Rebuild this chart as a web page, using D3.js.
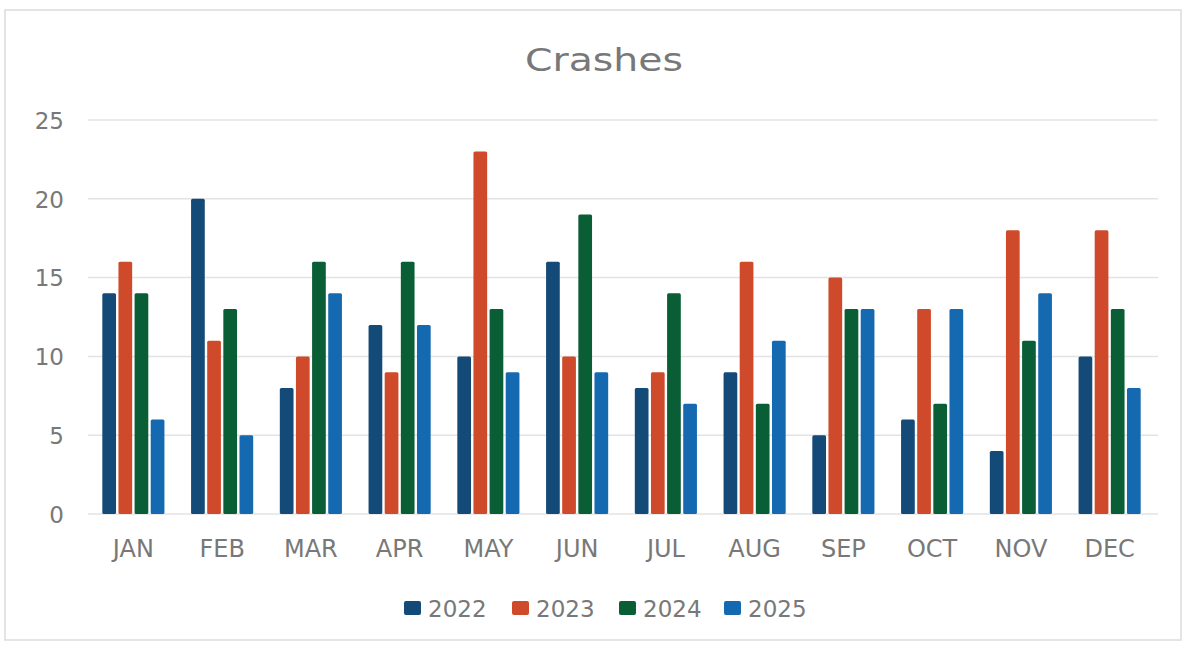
<!DOCTYPE html>
<html><head><meta charset="utf-8">
<script src="https://cdn.jsdelivr.net/npm/d3@7"></script>
<style>body{margin:0;background:#fff;}svg{display:block;font-family:"DejaVu Sans",sans-serif;}</style>
</head><body><svg id="c" width="1187" height="646"></svg>
<script>
const months = ["JAN","FEB","MAR","APR","MAY","JUN","JUL","AUG","SEP","OCT","NOV","DEC"];
const seriesNames = ["2022","2023","2024","2025"];
const v2022 = [14,20,8,12,10,16,8,9,5,6,4,10];
const v2023 = [16,11,10,9,23,10,9,16,15,13,18,18];
const v2024 = [14,13,16,16,13,19,14,7,13,7,11,13];
const v2025 = [6,5,14,12,9,9,7,11,13,13,14,8];
const yTicks = [0,5,10,15,20,25];
const colors = ["#144a78","#cf4a2b","#0a5e35","#1469b0"];
const values = [v2022,v2023,v2024,v2025];
const textCol = "#787878";

const svg = d3.select("#c");
svg.append("rect").attr("x",5).attr("y",10).attr("width",1176).attr("height",630)
  .attr("fill","#fff").attr("stroke","#dcdcdc").attr("stroke-width",1.5);

const x0 = d3.scaleBand().domain(months).range([89,1154]).paddingInner(0.3).paddingOuter(0.15);
const x1 = d3.scaleBand().domain(seriesNames).range([0,x0.bandwidth()]).paddingInner(0.15);
const y = d3.scaleLinear().domain([0,25]).range([514,120]);

const grid = svg.append("g");
grid.selectAll("line").data(yTicks).join("line")
  .attr("x1",88).attr("x2",1158).attr("y1",d=>y(d)).attr("y2",d=>y(d))
  .attr("stroke","#e3e3e3").attr("stroke-width",1.5);

const yAxis = svg.append("g").attr("transform","translate(64,0)")
  .call(d3.axisLeft(y).tickValues(yTicks).tickSize(0).tickPadding(0));
yAxis.select(".domain").remove();
yAxis.selectAll("text").attr("font-size",23).attr("fill",textCol).attr("font-family","'DejaVu Sans',sans-serif").attr("dy","0.36em");

const xAxis = svg.append("g").attr("transform","translate(0,557)")
  .call(d3.axisBottom(x0).tickSize(0).tickPadding(0));
xAxis.select(".domain").remove();
xAxis.selectAll("text").attr("font-size",24).attr("fill",textCol).attr("dy","0").attr("font-family","'DejaVu Sans',sans-serif");

const groups = svg.append("g").selectAll("g").data(months).join("g")
  .attr("transform",d=>`translate(${x0(d)},0)`);
groups.selectAll("rect").data((m,i)=>seriesNames.map((s,k)=>({s,k,v:values[k][i]}))).join("rect")
  .attr("x",d=>x1(d.s)).attr("width",x1.bandwidth())
  .attr("y",d=>y(d.v)).attr("height",d=>y(0)-y(d.v))
  .attr("rx",1.5).attr("fill",d=>colors[d.k]);

svg.append("text").attr("x",604).attr("y",71).attr("text-anchor","middle")
  .attr("font-size",32).attr("fill",textCol)
  .attr("textLength",158).attr("lengthAdjust","spacingAndGlyphs").text("Crashes");

const legX = [404,512,619,724];
const leg = svg.append("g").selectAll("g").data(seriesNames).join("g")
  .attr("transform",(d,i)=>`translate(${legX[i]},0)`);
leg.append("rect").attr("x",0).attr("y",601).attr("width",17).attr("height",14).attr("rx",2).attr("fill",(d,i)=>colors[i]);
leg.append("text").attr("x",24).attr("y",617).attr("font-size",23).attr("fill",textCol).text(d=>d);
</script></body></html>
